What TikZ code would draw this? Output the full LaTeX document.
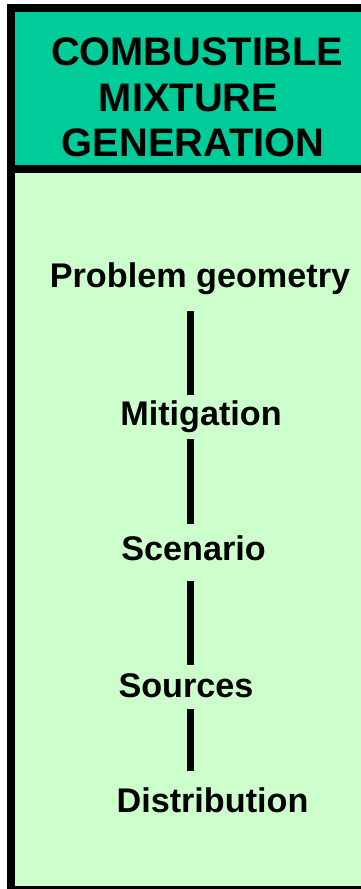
\documentclass[tikz,border=0pt]{standalone}
\usepackage{fontspec}
\setmainfont{Liberation Sans}
\definecolor{headteal}{RGB}{0,204,153}
\definecolor{bodygreen}{RGB}{204,255,204}
\tikzset{
  frame/.style={draw=black, line width=8pt},
  headtxt/.style={font=\fontsize{39.8}{44}\selectfont\bfseries, inner sep=0pt, anchor=base},
  label/.style={font=\fontsize{34.2}{38}\selectfont\bfseries, inner sep=0pt, anchor=base, text height=25pt, text depth=8pt},
  conn/.style={draw=black, line width=7.6pt, line cap=butt}
}
\begin{document}
\begin{tikzpicture}[x=1pt, y=-1pt]
\useasboundingbox (0,0) rectangle (361,889);
\fill[white] (0,0) rectangle (361,889);
% body panel
\path[frame, fill=bodygreen] (11,169) rectangle (372,890);
% header panel
\path[frame, fill=headteal] (11,8) rectangle (372,169);
% header text
\node[headtxt] (h1) at (197,65) {COMBUSTIBLE};
\node[headtxt] (h2) at (188.5,111) {MIXTURE};
\node[headtxt] (h3) at (193,156.5) {GENERATION};
% labels
\node[label] (pg) at (200,287) {Problem geometry};
\node[label] (mit) at (201,425) {Mitigation};
\node[label] (scen) at (193.5,560) {Scenario};
\node[label] (src) at (186,697.5) {Sources};
\node[label] (dist) at (212.5,812) {Distribution};
\coordinate (axis) at (190.5,0);
% connectors
\draw[conn, shorten <=16pt, shorten >=5pt] (axis |- pg.south) -- (axis |- mit.north);
\draw[conn, shorten <=6pt, shorten >=10.5pt] (axis |- mit.south) -- (axis |- scen.north);
\draw[conn, shorten <=13pt, shorten >=7pt] (axis |- scen.south) -- (axis |- src.north);
\draw[conn, shorten <=3.5pt, shorten >=16pt] (axis |- src.south) -- (axis |- dist.north);
\end{tikzpicture}
\end{document}
